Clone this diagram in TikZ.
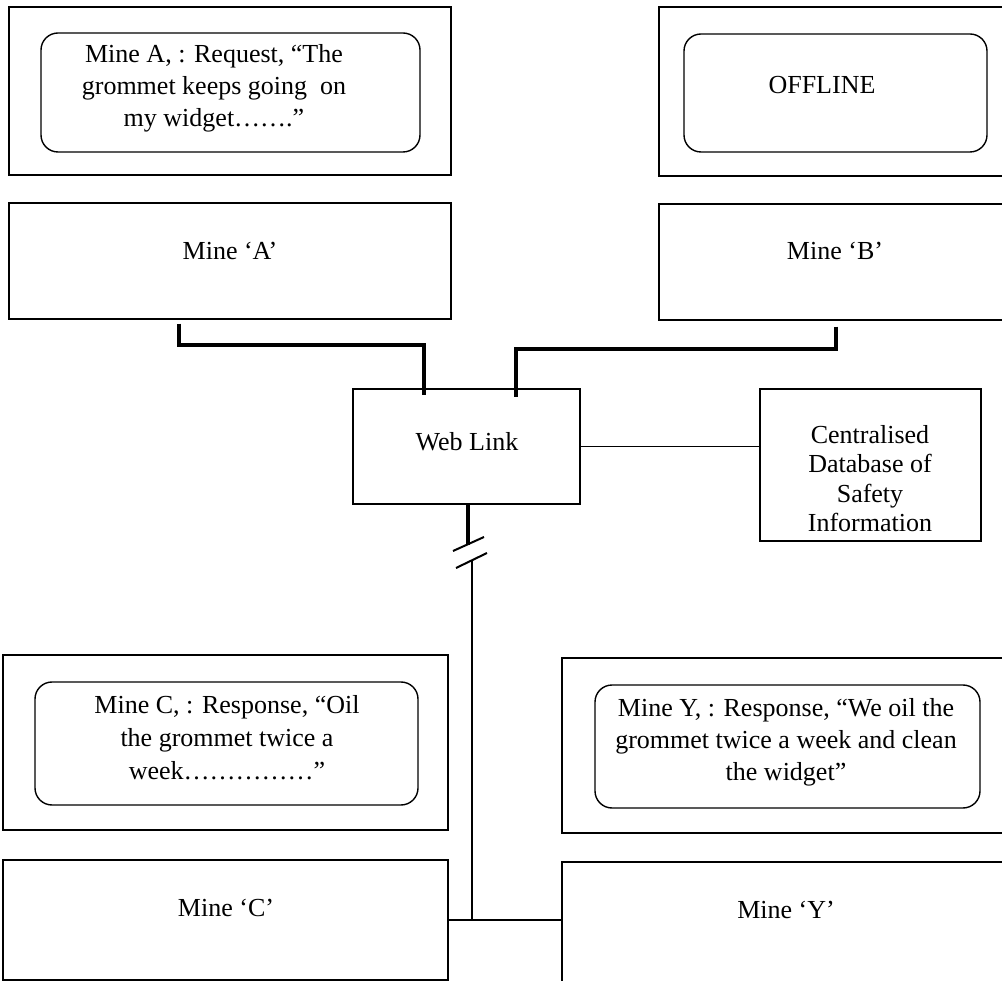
\documentclass[tikz,border=0pt]{standalone}
\usepackage{fontspec}
\setmainfont{Liberation Serif}
% strut that fixes the height and depth of every text line
\newcommand\ystrut{\rule[-.3\baselineskip]{0pt}{\baselineskip}}
\begin{document}
\begin{tikzpicture}[x=1pt,y=-1pt,
  box/.style={draw=black,line width=1.4pt,rectangle,inner sep=0pt},
  bubble/.style={box,rounded corners=17pt},
  txt/.style={inner sep=0pt,align=center,font=\fontsize{26}{32}\selectfont},
  link/.style={line width=4pt,line join=miter},
  wire/.style={line width=1.5pt},
  feed/.style={line width=2pt}]
\useasboundingbox (0,0) rectangle (1002,981);
\clip (0,0) rectangle (1002,981);

% request from mine A
\node[box,minimum width=442pt,minimum height=168pt] (reqA) at (230,91) {};
\node[bubble,minimum width=379pt,minimum height=119pt] (reqAin) at (230.5,92.5) {};
\node[txt] (reqAtxt) at (214,88) {\ystrut Mine A, : Request, “The\\
  \ystrut grommet keeps going\ \ on\\ \ystrut my widget…….”};

% mine B is offline
\node[box,minimum width=353pt,minimum height=169pt] (offB) at (835.5,91.5) {};
\node[bubble,minimum width=303pt,minimum height=118pt] (offBin) at (835.5,93) {};
\node[txt] (offBtxt) at (822,87) {\ystrut OFFLINE};

% mines on the network
\node[box,minimum width=442pt,minimum height=116pt] (mineA) at (230,261) {};
\node[txt] (mineAtxt) at (230,253.6) {\ystrut Mine ‘A’};
\node[box,minimum width=353pt,minimum height=116pt] (mineB) at (835.5,262) {};
\node[txt] (mineBtxt) at (835,253.6) {\ystrut Mine ‘B’};

% web link and central database
\node[box,minimum width=227pt,minimum height=115pt] (web) at (466.5,446.5) {};
\node[txt] (webtxt) at (467,444.6) {\ystrut Web Link};
\node[box,minimum width=221pt,minimum height=152pt] (db) at (870.5,465) {};
\node[txt,font=\fontsize{26}{29.5}\selectfont] (dbtxt) at (870,481.4)
  {\ystrut Centralised\\ \ystrut Database of\\ \ystrut Safety\\ \ystrut Information};

% responses from mines C and Y
\node[box,minimum width=445pt,minimum height=175pt] (respC) at (225.5,742.5) {};
\node[bubble,minimum width=383pt,minimum height=123pt] (respCin) at (226.5,743.5) {};
\node[txt,font=\fontsize{26}{33}\selectfont] (respCtxt) at (227,739.4)
  {\ystrut Mine C, : Response, “Oil\\ \ystrut the grommet twice a\\
   \ystrut week……………”};
\node[box,minimum width=450pt,minimum height=175pt] (respY) at (787,745.5) {};
\node[bubble,minimum width=385pt,minimum height=123pt] (respYin) at (787.5,746.5) {};
\node[txt] (respYtxt) at (786,741.6)
  {\ystrut Mine Y, : Response, “We oil the\\ \ystrut grommet twice a week and clean\\
   \ystrut the widget”};

\node[box,minimum width=445pt,minimum height=120pt] (mineC) at (225.5,920) {};
\node[txt] (mineCtxt) at (226,910) {\ystrut Mine ‘C’};
\node[box,minimum width=450pt,minimum height=133pt] (mineY) at (787,928.5) {};
\node[txt] (mineYtxt) at (786,912) {\ystrut Mine ‘Y’};

% thick links from mines A and B into the web link
\draw[link] ([shift={(171,4)}]mineA.south west) -- ++(0,21)
  -| ([shift={(72,7)}]web.north west);
\draw[link] ([shift={(178,6)}]mineB.south west) -- ++(0,22)
  -| ([shift={(164,9)}]web.north west);

% web link to database
\draw[wire] (web.east) -- (web.east -| db.west);

% broken feed down to mines C and Y
\coordinate (brk) at (470,552);
\coordinate (brkLow) at (472,560);
\draw[link] ([xshift=1.5pt]web.south) -- ++(0,40);
\draw[feed] ([shift={(-17,-1)}]brk) -- ([shift={(14,-15)}]brk);
\draw[feed] ([shift={(-14,16)}]brk) -- ([shift={(17,1)}]brk);
\draw[feed] (brkLow) -- (brkLow |- mineC.east);
\draw[feed] (mineC.east) -- (mineC.east -| mineY.west);
\end{tikzpicture}
\end{document}
